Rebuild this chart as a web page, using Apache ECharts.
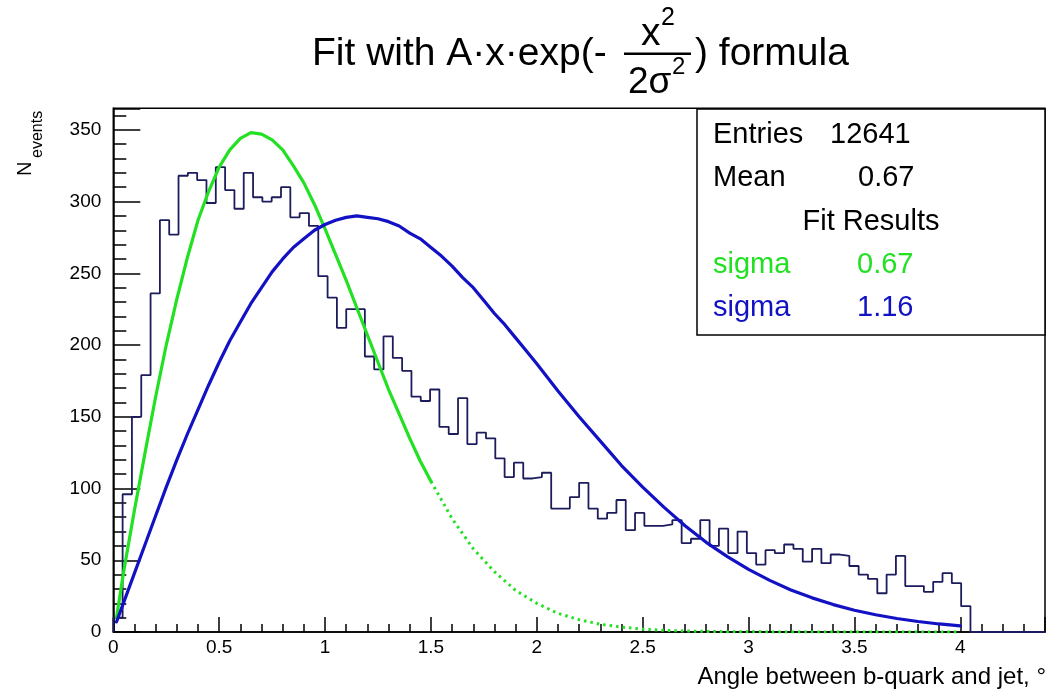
<!DOCTYPE html>
<html>
<head>
<meta charset="utf-8">
<script src="https://cdn.jsdelivr.net/npm/echarts@6/dist/echarts.min.js"></script>
<style>html,body{margin:0;padding:0;background:#fff}#c{width:1050px;height:692px}</style>
</head>
<body>
<div id="c"></div>
<script>
// Histogram definition: 100 bins on [0, 4.4]
const binLow = 0;
const binHigh = 4.4;
const binCounts = [
  10, 96, 150, 179, 236, 287, 277, 318, 320, 315,
  299, 324, 308, 295, 320, 303, 300, 303, 310, 289,
  292, 283, 248, 233, 212, 225, 225, 192, 183, 206,
  191, 182, 164, 161, 169, 143, 138, 163, 131, 139,
  135, 121, 108, 118, 107, 108, 111, 86, 86, 94,
  104, 86, 79, 83, 92, 71, 83, 74, 74, 75,
  78, 62, 65, 78, 60, 72, 55, 70, 55, 47,
  57, 55, 61, 58, 49, 58, 48, 54, 53, 46,
  40, 37, 27, 40, 53, 32, 32, 28, 35, 41,
  34, 18, 0, 0, 0, 0, 0, 0, 0, 0
];

// Green fit curve (sigma 0.67): solid part, then dotted tail
const greenSolidX = [0.015, 0.05, 0.1, 0.15, 0.2, 0.25, 0.3, 0.35, 0.4, 0.45, 0.5, 0.55, 0.6, 0.65, 0.7, 0.75,
                     0.8, 0.85, 0.9, 0.95, 1.0, 1.05, 1.1, 1.15, 1.2, 1.25, 1.3, 1.35, 1.4, 1.45, 1.5];
const greenSolidY = [10, 43, 85, 125, 164, 200, 232, 261, 287, 307, 324, 336, 344, 348, 347, 343,
                     336, 325, 313, 298, 281, 263, 245, 226, 207, 188, 169, 152, 135, 119, 105];
const greenDotX = [1.5, 1.6, 1.7, 1.8, 1.9, 2.0, 2.1, 2.2, 2.3, 2.4, 2.5, 2.6, 2.7, 2.8, 2.9, 3.0, 3.5, 4.0];
const greenDotY = [105, 79, 58, 42, 29, 20, 13, 8.6, 5.4, 3.4, 2.0, 1.2, 0.7, 0.4, 0.2, 0.1, 0, 0];

// Blue fit curve (sigma 1.16)
const blueX = [0.015, 0.05, 0.1, 0.15, 0.2, 0.25, 0.3, 0.35, 0.4, 0.45, 0.5, 0.55, 0.6, 0.65, 0.7, 0.75, 0.8, 0.85,
               0.9, 0.95, 1.0, 1.05, 1.1, 1.15, 1.2, 1.25, 1.3, 1.35, 1.4, 1.45, 1.5, 1.55, 1.6, 1.65, 1.7, 1.75,
               1.8, 1.85, 1.9, 1.95, 2.0,
               2.1, 2.2, 2.3, 2.4, 2.5, 2.6, 2.7, 2.8, 2.9, 3.0, 3.1, 3.2, 3.3, 3.4, 3.5, 3.6, 3.7, 3.8, 3.9, 4.0];
const blueY = [7, 21, 41, 61, 81, 101, 120, 138, 155, 172, 188, 203, 216, 229, 240, 251, 260, 268,
               274, 280, 284, 287, 289, 290, 289, 288, 286, 283, 278, 274, 268, 262, 255, 247, 240, 231,
               222, 214, 205, 196, 187,
               168, 150, 133, 116, 101, 87, 74, 62.5, 52.5, 43.6, 36, 29.3, 23.8, 19.1, 15.2, 12.0, 9.4, 7.3, 5.6, 4.3];

// Axis ranges / ticks
const xMin = 0, xMax = 4.4, xInterval = 0.5, xLabelMax = 4;
const yMin = 0, yMax = 365, yInterval = 50, yLabelMax = 350;

// Stats box texts
const statsRows = [
  ['Entries', '12641'],
  ['Mean', '0.67']
];
const fitTitle = 'Fit Results';
const fitRows = [
  ['sigma', '0.67'],
  ['sigma', '1.16']
];

const FONT = "'Liberation Sans', Arial, Helvetica, sans-serif";
const GREEN = '#22e022';
const BLUE = '#1212c4';
const HIST = '#1c1c5c';

const nBins = binCounts.length;
const bw = (binHigh - binLow) / nBins;
const histData = [[binLow, 0]];
for (let i = 0; i < nBins; i++) histData.push([binLow + i * bw, binCounts[i]]);
histData.push([binHigh, binCounts[nBins - 1]]);

const zip = (xs, ys) => xs.map((x, i) => [x, ys[i]]);

const chart = echarts.init(document.getElementById('c'), null, {renderer: 'canvas'});

// place text by its baseline (converted to a 'middle' anchor)
function txt(x, baseline, text, size, color, align, extra) {
  const rot = extra && extra.rotation;
  const off = 0.3465 * size;
  const pos = rot ? {x: x - off, y: baseline} : {x: x, y: baseline - off};
  return Object.assign({
    type: 'text', x: pos.x, y: pos.y, z: 100,
    style: {
      text: text, fill: color || '#000',
      font: size + 'px ' + FONT,
      align: align || 'left', verticalAlign: 'middle',
      textAlign: align || 'left', textVerticalAlign: 'middle'
    }
  }, extra || {});
}

const graphics = [
  // Title
  txt(312, 68, 'Fit with A\u00b7x\u00b7exp(-', 39, '#000'),
  txt(641, 48, 'x', 39, '#000'),
  txt(661, 27, '2', 25, '#000'),
  {type: 'rect', z: 100, shape: {x: 624, y: 52.5, width: 67, height: 2.5}, style: {fill: '#000'}},
  txt(628, 96, '2\u03c3', 37, '#000'),
  txt(672, 76, '2', 24, '#000'),
  txt(695, 68, ') formula', 39, '#000'),
  // Y axis title
  txt(32, 176, 'N', 20, '#000', 'left', {rotation: Math.PI / 2}),
  txt(43, 158, 'events', 16, '#000', 'left', {rotation: Math.PI / 2}),
  // X axis title
  txt(1046, 686, 'Angle between b-quark and jet, \u00b0', 24, '#000', 'right'),
  // Stats box
  {type: 'rect', z: 90, shape: {x: 697, y: 109, width: 348, height: 226},
   style: {fill: '#fff', stroke: '#000', lineWidth: 1.5}},
  txt(713, 145, statsRows[0][0], 29, '#000'),
  txt(830, 145, statsRows[0][1], 29, '#000'),
  txt(713, 188, statsRows[1][0], 29, '#000'),
  txt(858, 188, statsRows[1][1], 29, '#000'),
  txt(871, 232, fitTitle, 29, '#000', 'center'),
  txt(713, 275, fitRows[0][0], 29, GREEN),
  txt(857, 275, fitRows[0][1], 29, GREEN),
  txt(713, 318, fitRows[1][0], 29, BLUE),
  txt(857, 318, fitRows[1][1], 29, BLUE)
];

chart.setOption({
  animation: false,
  backgroundColor: '#fff',
  grid: {left: 113.3, right: 5, top: 108.3, bottom: 60, show: true, borderColor: '#000', borderWidth: 1.5,
         backgroundColor: 'transparent', containLabel: false, outerBoundsMode: 'none'},
  xAxis: {
    type: 'value', min: xMin, max: xMax, interval: xInterval,
    axisLine: {show: true, onZero: false, lineStyle: {color: '#000', width: 1.5}},
    axisTick: {show: true, inside: true, length: 15, lineStyle: {color: '#000', width: 1.5}},
    minorTick: {show: true, splitNumber: 5, length: 8, lineStyle: {color: '#000', width: 1.5}},
    splitLine: {show: false}, minorSplitLine: {show: false},
    axisLabel: {
      show: true, margin: 6, color: '#000', fontSize: 19, fontFamily: FONT,
      formatter: v => (Math.abs(v * 2 - Math.round(v * 2)) < 1e-6 && v <= xLabelMax + 1e-6) ? String(+v.toFixed(1)) : ''
    }
  },
  yAxis: {
    type: 'value', min: yMin, max: yMax, interval: yInterval,
    axisLine: {show: true, onZero: false, lineStyle: {color: '#000', width: 1.5}},
    axisTick: {show: true, inside: true, length: 27, lineStyle: {color: '#000', width: 1.5}},
    minorTick: {show: true, splitNumber: 5, length: 13, lineStyle: {color: '#000', width: 1.5}},
    splitLine: {show: false}, minorSplitLine: {show: false},
    axisLabel: {
      show: true, margin: 12, color: '#000', fontSize: 19, fontFamily: FONT,
      formatter: v => (v % yInterval === 0 && v <= yLabelMax) ? String(v) : ''
    }
  },
  series: [
    {
      type: 'line', name: 'hist', data: histData, step: 'end', symbol: 'none', z: 3,
      lineStyle: {color: HIST, width: 1.8}, silent: true
    },
    {
      type: 'line', name: 'green', data: zip(greenSolidX, greenSolidY), smooth: false, symbol: 'none', z: 4,
      lineStyle: {color: GREEN, width: 3.2, join: 'round', cap: 'round'}, silent: true
    },
    {
      type: 'line', name: 'greenDot', data: zip(greenDotX, greenDotY), smooth: false, symbol: 'none', z: 4,
      lineStyle: {color: GREEN, width: 3, type: [2.5, 4]}, silent: true
    },
    {
      type: 'line', name: 'blue', data: zip(blueX, blueY), smooth: false, symbol: 'none', z: 5,
      lineStyle: {color: BLUE, width: 3.2, join: 'round', cap: 'round'}, silent: true
    }
  ],
  graphic: {elements: graphics}
});
</script>
</body>
</html>
